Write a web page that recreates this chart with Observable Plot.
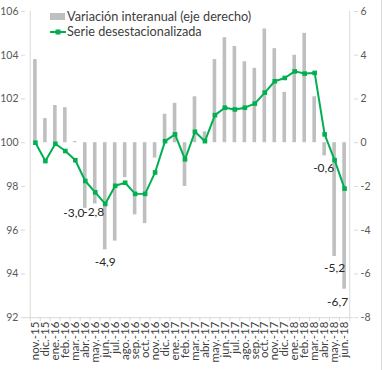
<!DOCTYPE html>
<html><head><meta charset="utf-8">
<script src="https://cdn.jsdelivr.net/npm/d3@7"></script>
<script src="https://cdn.jsdelivr.net/npm/@observablehq/plot@0.6"></script>
<style>
body{margin:0;background:#fff;}
#wrap{position:relative;width:381px;height:370px;border-right:1px solid #d9d9d9;overflow:hidden;}
#legend{position:absolute;left:50px;top:9px;font:12.7px Lato, "Open Sans", sans-serif;color:#404040;line-height:15px;}
#legend .row{display:flex;align-items:center;white-space:nowrap;}
#legend .sw{display:inline-block;width:15px;height:7px;background:#bfbfbf;margin-right:2px;}
#legend svg{margin-right:1px;}
</style></head><body>
<div id="wrap"><div id="chart"></div>
<div id="legend">
 <div class="row"><span class="sw"></span>Variación interanual (eje derecho)</div>
 <div class="row"><svg width="16" height="8"><line x1="0" y1="4" x2="16" y2="4" stroke="#00b050" stroke-width="2"/><rect x="5.5" y="1.5" width="5" height="5" fill="#00b050"/></svg>Serie desestacionalizada</div>
</div></div>
<script>
const months = ["nov.-15","dic.-15","ene.-16","feb.-16","mar.-16","abr.-16","may.-16","jun.-16","jul.-16","ago.-16","sep.-16","oct.-16","nov.-16","dic.-16","ene.-17","feb.-17","mar.-17","abr.-17","may.-17","jun.-17","jul.-17","ago.-17","sep.-17","oct.-17","nov.-17","dic.-17","ene.-18","feb.-18","mar.-18","abr.-18","may.-18","jun.-18"];
const variacion = [3.8,1.1,1.7,1.6,0.05,-3.0,-2.8,-4.9,-4.5,-1.6,-3.3,-3.7,-0.7,1.3,1.8,-2.0,2.1,0.5,3.8,4.8,4.4,3.7,3.4,5.2,4.3,2.3,4.0,5.0,2.1,-0.6,-5.2,-6.7];
const serie = [100.0,99.16,99.95,99.62,99.2,98.25,97.73,97.2,98.03,98.17,97.66,97.66,98.64,100.07,100.38,99.24,100.5,100.07,101.26,101.6,101.52,101.6,101.79,102.29,102.81,102.96,103.26,103.16,103.19,100.38,99.2,97.9];
const leftTicks = [92,94,96,98,100,102,104,106];
const rightTicks = [-8,-6,-4,-2,0,2,4,6];
const labeledMonths = ["abr.-16","may.-16","jun.-16","abr.-18","may.-18","jun.-18"];

const data = months.map((m,i)=>({m, v: variacion[i], s: serie[i]}));
const labelOffsets = {"abr.-16":[-11.5,5],"may.-16":[-1.5,8],"jun.-16":[0,12],"abr.-18":[-1,12],"may.-18":[0,12],"jun.-18":[-7,12.5]};
const labels = data.filter(d=>labeledMonths.includes(d.m));
const fmt = v => d3.format(".1f")(v).replace(".", ",").replace("−","-");

const W=382,H=370,ML=25,MR=28,MT=11,MB=52;
const half = (W-ML-MR)/months.length/2;
const offset = 100; // right axis = left axis - 100
const rightLabel = new Map(leftTicks.map((t,i)=>[t, rightTicks[i]]));

const marks = [
  Plot.barY(data,{x:"m", y1: offset, y2: d=>d.v+offset, fill:"#bfbfbf", insetLeft:3.2, insetRight:3.2}),
  Plot.ruleY([92],{stroke:"#d9d9d9"}),
  Plot.ruleX([months[0]],{x:d=>d, y1:92, y2:106, dx:-half, stroke:"#d9d9d9"}),
  Plot.ruleX([months[months.length-1]],{x:d=>d, y1:92, y2:106, dx:half, stroke:"#d9d9d9"}),
  Plot.ruleX(months,{x:d=>d, y1:92, y2:91.82, dx:-half, stroke:"#d9d9d9"}),
  Plot.ruleX([months[months.length-1]],{x:d=>d, y1:92, y2:91.82, dx:half, stroke:"#d9d9d9"}),
  Plot.axisY(leftTicks,{anchor:"left", label:null, tickSize:4, tickPadding:3, stroke:"#d9d9d9", fill:"#595959", fontSize:10.5}),
  Plot.axisY(leftTicks,{anchor:"right", label:null, tickSize:4, tickPadding:3, tickFormat:d=>String(rightLabel.get(d)), stroke:"#d9d9d9", fill:"#595959", fontSize:10.5}),
  Plot.axisX(months,{label:null, tickRotate:-90, tickSize:0, tickPadding:4, fill:"#404040", fontSize:11.5}),
  Plot.line(data,{x:"m", y:"s", stroke:"#00b050", strokeWidth:2}),
  Plot.dot(data,{x:"m", y:"s", symbol:"square", r:2.6, fill:"#00b050"}),
  ...labels.map(d=>Plot.text([d],{x:"m", y:d=>d.v+offset, text:d=>fmt(d.v), dx:labelOffsets[d.m][0], dy:labelOffsets[d.m][1], fill:"#262626", fontSize:12}))
];

const chart = Plot.plot({
  width:W, height:H, marginLeft:ML, marginRight:MR, marginTop:MT, marginBottom:MB,
  x:{type:"band", domain:months, padding:0, axis:null},
  y:{domain:[92,106], axis:null},
  style:{fontFamily:"Lato, 'Open Sans', sans-serif", background:"#fff", overflow:"visible"},
  marks
});
document.getElementById("chart").appendChild(chart);
</script>
</body></html>
